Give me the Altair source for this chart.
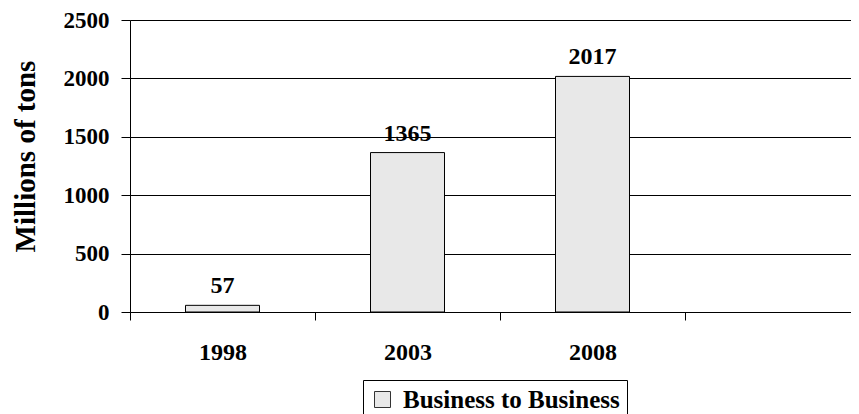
import altair as alt
import pandas as pd

years = ["1998", "2003", "2008"]
values = [57, 1365, 2017]
x_domain = ["1998", "2003", "2008", " "]
series_name = "Business to Business"

df = pd.DataFrame({"year": years, "value": values, "series": [series_name] * 3})

FONT = "Liberation Serif"
LBL = 24

x_scale = alt.Scale(domain=x_domain, range=[0, 740], paddingInner=0, paddingOuter=0)

x_enc = alt.X(
    "year:N",
    scale=x_scale,
    axis=alt.Axis(
        title=None, labelAngle=0, tickBand="extent", tickSize=8, tickColor="black",
        domainColor="black", labelFont=FONT, labelFontSize=LBL, labelFontWeight="bold",
        labelColor="black", labelPadding=20, grid=False,
    ),
)
y_enc = alt.Y(
    "value:Q",
    scale=alt.Scale(domain=[0, 2500], nice=False),
    axis=alt.Axis(
        title="Millions of tons", values=[0, 500, 1000, 1500, 2000, 2500], format="d",
        tickSize=9, tickColor="black", domainColor="black", grid=True,
        gridColor="black", gridOpacity=1, gridWidth=1,
        labelFont=FONT, labelFontSize=23, labelFontWeight="bold", labelColor="black",
        labelPadding=12, titleFont=FONT, titleFontSize=29, titleFontWeight="bold",
        titleColor="black", titleX=-96, titleY=136, titleAngle=-90,
        titleBaseline="alphabetic",
    ),
)

bars = alt.Chart(df).mark_bar(
    stroke="black", strokeWidth=1, width=alt.RelativeBandSize(0.4)
).encode(
    x=x_enc,
    y=y_enc,
    color=alt.Color(
        "series:N",
        scale=alt.Scale(domain=[series_name], range=["#e8e8e8"]),
        legend=alt.Legend(
            title=None, orient="none", legendX=233, legendY=360, symbolType="square",
            symbolSize=256, symbolStrokeColor="#333333", symbolStrokeWidth=1,
            labelFont=FONT, labelFontSize=25, labelFontWeight="bold", labelColor="black",
            labelLimit=500, strokeColor="black", padding=7, labelOffset=8,
            fillColor="white",
        ),
    ),
)

labels = alt.Chart(df).mark_text(
    font=FONT, fontSize=LBL, fontWeight="bold", color="black", dy=-12, baseline="alphabetic"
).encode(x=alt.X("year:N", scale=x_scale), y="value:Q", text="value:Q")

chart = alt.layer(bars, labels).properties(
    width=721, height=292,
    autosize=alt.AutoSizeParams(type="none"),
    padding={"left": 122, "top": 12, "right": 0, "bottom": 102},
).configure_view(stroke=None).configure(background="white")

chart.save("out.html", embed_options={"renderer": "svg", "actions": False})
